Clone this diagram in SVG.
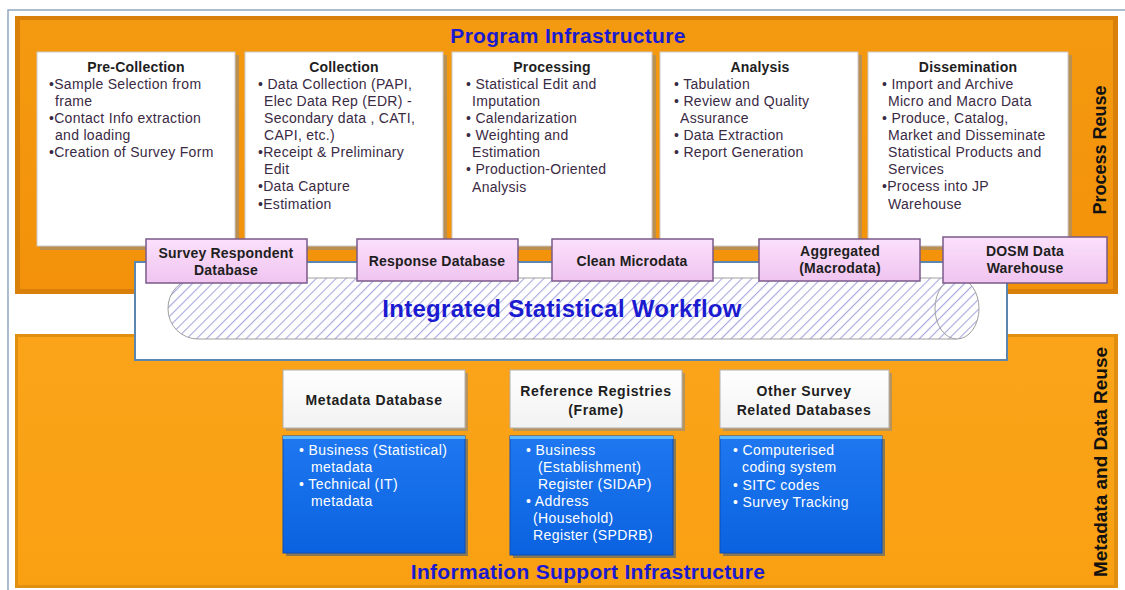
<svg xmlns="http://www.w3.org/2000/svg" width="1125" height="590" viewBox="0 0 1125 590">
<defs>
<linearGradient id="gTop" x1="0" y1="0" x2="0" y2="1"><stop offset="0" stop-color="#f49a10"/><stop offset="1" stop-color="#f3920a"/></linearGradient>
<linearGradient id="gLow" x1="0" y1="0" x2="0" y2="1"><stop offset="0" stop-color="#fba41a"/><stop offset="1" stop-color="#f9a012"/></linearGradient>
<linearGradient id="gPink" x1="0" y1="0" x2="0" y2="1"><stop offset="0" stop-color="#fbe0fb"/><stop offset="1" stop-color="#f0c4f0"/></linearGradient>
<linearGradient id="gBlue" x1="0" y1="0" x2="0" y2="1"><stop offset="0" stop-color="#1f78f0"/><stop offset="1" stop-color="#0a62e0"/></linearGradient>
<linearGradient id="gWhite" x1="0" y1="0" x2="0" y2="1"><stop offset="0" stop-color="#ffffff"/><stop offset="1" stop-color="#f2f2f2"/></linearGradient>
<pattern id="hatch" width="7" height="7" patternUnits="userSpaceOnUse" patternTransform="rotate(45)">
<rect width="7" height="7" fill="#ffffff"/>
<line x1="0" y1="0" x2="0" y2="7" stroke="#a8a8e0" stroke-width="2.2"/>
</pattern>
</defs>
<style>
.t{font-family:"Liberation Sans",Arial,sans-serif;font-size:14px;letter-spacing:0.3px;fill:#3a2a44}
.h{font-family:"Liberation Sans",Arial,sans-serif;font-size:14px;letter-spacing:0.2px;font-weight:bold;fill:#1e1e1e;text-anchor:middle}
.hb{letter-spacing:0.6px}
.w{font-family:"Liberation Sans",Arial,sans-serif;font-size:14px;letter-spacing:0.4px;fill:#ffffff}
.big{font-family:"Liberation Sans",Arial,sans-serif;font-weight:bold;fill:#1a1ad0;text-anchor:middle;letter-spacing:0.3px}
.vert{font-family:"Liberation Sans",Arial,sans-serif;font-weight:bold;fill:#111;text-anchor:middle}
.proc{fill:#ffffff;stroke:#c9c9c9;stroke-width:1}
.pshadow{fill:#8a8a8a;opacity:0.55}
.pink{fill:url(#gPink);stroke:#7a5a8a;stroke-width:1.5}
.blue{fill:url(#gBlue);stroke:#0a4fb8;stroke-width:1}
.hdr{fill:url(#gWhite);stroke:#b0b0b0;stroke-width:1}
</style>
<rect width="1125" height="590" fill="#ffffff"/>
<path d="M8 590 V10 H1125" fill="none" stroke="#90a8c0" stroke-width="1.5"/>

<g id="program-infrastructure">
<rect x="15" y="16" width="1103" height="278" fill="#d9800a"/>
<rect x="20" y="20" width="1093" height="269" fill="url(#gTop)"/>
<text class="big" x="568" y="43" font-size="21">Program Infrastructure</text>
</g>

<g id="information-support-infrastructure">
<rect x="15" y="334" width="1103" height="254" fill="#e08f10"/>
<rect x="18" y="337" width="1096" height="248" fill="url(#gLow)"/>
<text class="big" x="588" y="579" font-size="21">Information Support Infrastructure</text>
</g>

<g id="process-reuse"><text class="vert" font-size="18" transform="translate(1106,150) rotate(-90)">Process Reuse</text></g>
<g id="metadata-reuse"><text class="vert" font-size="19" transform="translate(1107,462) rotate(-90)">Metadata and Data Reuse</text></g>

<g id="pre-collection">
<rect class="pshadow" x="40" y="55" width="199" height="195"/>
<rect class="proc" x="37" y="52" width="198" height="194"/>
<text class="h" x="136" y="72">Pre-Collection</text>
<text class="t"><tspan x="49" y="89">•Sample Selection from</tspan><tspan x="55" y="106">frame</tspan><tspan x="49" y="123">•Contact Info extraction</tspan><tspan x="55" y="140">and loading</tspan><tspan x="49" y="157">•Creation of Survey  Form</tspan></text>
</g>

<g id="collection">
<rect class="pshadow" x="248" y="55" width="199" height="195"/>
<rect class="proc" x="245" y="52" width="198" height="194"/>
<text class="h" x="344" y="72">Collection</text>
<text class="t"><tspan x="258" y="89">• Data Collection (PAPI,</tspan><tspan x="264" y="106">Elec Data Rep (EDR) -</tspan><tspan x="264" y="123">Secondary data , CATI,</tspan><tspan x="264" y="140">CAPI, etc.)</tspan><tspan x="258" y="157">•Receipt &amp; Preliminary</tspan><tspan x="264" y="174">Edit</tspan><tspan x="258" y="191">•Data Capture</tspan><tspan x="258" y="209">•Estimation</tspan></text>
</g>

<g id="processing">
<rect class="pshadow" x="455" y="55" width="201" height="195"/>
<rect class="proc" x="452" y="52" width="200" height="194"/>
<text class="h" x="552" y="72">Processing</text>
<text class="t"><tspan x="466" y="89">• Statistical Edit and</tspan><tspan x="472" y="106">Imputation</tspan><tspan x="466" y="123">• Calendarization</tspan><tspan x="466" y="140">• Weighting  and</tspan><tspan x="472" y="157">Estimation</tspan><tspan x="466" y="174">• Production-Oriented</tspan><tspan x="472" y="192">Analysis</tspan></text>
</g>

<g id="analysis">
<rect class="pshadow" x="663" y="55" width="199" height="195"/>
<rect class="proc" x="660" y="52" width="198" height="194"/>
<text class="h" x="760" y="72">Analysis</text>
<text class="t"><tspan x="674" y="89">• Tabulation</tspan><tspan x="674" y="106">• Review and Quality</tspan><tspan x="680" y="123">Assurance</tspan><tspan x="674" y="140">• Data Extraction</tspan><tspan x="674" y="157">• Report Generation</tspan></text>
</g>

<g id="dissemination">
<rect class="pshadow" x="871" y="55" width="201" height="195"/>
<rect class="proc" x="868" y="52" width="200" height="194"/>
<text class="h" x="968" y="72">Dissemination</text>
<text class="t"><tspan x="882" y="89">• Import and Archive</tspan><tspan x="888" y="106">Micro and Macro Data</tspan><tspan x="882" y="123">• Produce, Catalog,</tspan><tspan x="888" y="140">Market and Disseminate</tspan><tspan x="888" y="157">Statistical Products and</tspan><tspan x="888" y="174">Services</tspan><tspan x="882" y="191">•Process into JP</tspan><tspan x="888" y="209">Warehouse</tspan></text>
</g>

<g id="integrated-statistical-workflow">
<rect x="135" y="262" width="872" height="98" fill="#ffffff" stroke="#5a86b0" stroke-width="2"/>
<path d="M198 278 H957 V339 H198 A30 30 0 0 1 168 309 A30 30 0 0 1 198 278 Z" fill="url(#hatch)" stroke="#a0a0a0" stroke-width="1"/>
<ellipse cx="957" cy="308.5" rx="22" ry="30.5" fill="url(#hatch)" stroke="#a0a0a0" stroke-width="1"/>
<text class="big" x="562" y="317" font-size="24">Integrated Statistical Workflow</text>
</g>

<g id="survey-respondent-database">
<rect class="pink" x="146" y="239" width="161" height="44"/>
<text class="h"><tspan x="226" y="258">Survey Respondent</tspan><tspan x="226" y="275">Database</tspan></text>
</g>
<g id="response-database">
<rect class="pink" x="357" y="239" width="161" height="42"/>
<text class="h" x="437" y="266">Response Database</text>
</g>
<g id="clean-microdata">
<rect class="pink" x="552" y="239" width="161" height="42"/>
<text class="h" x="632" y="266">Clean Microdata</text>
</g>
<g id="aggregated-macrodata">
<rect class="pink" x="759" y="239" width="161" height="42"/>
<text class="h"><tspan x="840" y="256">Aggregated</tspan><tspan x="840" y="273">(Macrodata)</tspan></text>
</g>
<g id="dosm-data-warehouse">
<rect class="pink" x="943" y="237" width="164" height="46"/>
<text class="h"><tspan x="1025" y="256">DOSM Data</tspan><tspan x="1025" y="273">Warehouse</tspan></text>
</g>

<g id="metadata-database">
<rect x="286" y="373" width="182" height="58" fill="#8a8a8a" opacity="0.6"/>
<rect class="hdr" x="283" y="370" width="182" height="58"/>
<text class="h hb" x="374" y="405">Metadata  Database</text>
<rect x="286" y="439" width="182" height="117" fill="#1a4f90" opacity="0.5"/>
<rect class="blue" x="283" y="436" width="182" height="117"/>
<rect x="283" y="436" width="182" height="3" fill="#5ab8ff"/>
<text class="w"><tspan x="299" y="455">•  Business (Statistical)</tspan><tspan x="311" y="472">metadata</tspan><tspan x="299" y="489">•  Technical (IT)</tspan><tspan x="311" y="506">metadata</tspan></text>
</g>

<g id="reference-registries">
<rect x="513" y="373" width="172" height="58" fill="#8a8a8a" opacity="0.6"/>
<rect class="hdr" x="510" y="370" width="172" height="58"/>
<text class="h hb"><tspan x="596" y="396">Reference Registries</tspan><tspan x="596" y="415">(Frame)</tspan></text>
<rect x="513" y="439" width="163" height="119" fill="#1a4f90" opacity="0.5"/>
<rect class="blue" x="510" y="436" width="163" height="119"/>
<rect x="510" y="436" width="163" height="3" fill="#5ab8ff"/>
<text class="w"><tspan x="526" y="455">•  Business</tspan><tspan x="538" y="472">(Establishment)</tspan><tspan x="538" y="489">Register (SIDAP)</tspan><tspan x="526" y="506">•  Address</tspan><tspan x="533" y="523">(Household)</tspan><tspan x="533" y="540">Register (SPDRB)</tspan></text>
</g>

<g id="other-survey-databases">
<rect x="723" y="373" width="169" height="58" fill="#8a8a8a" opacity="0.6"/>
<rect class="hdr" x="720" y="370" width="169" height="58"/>
<text class="h hb"><tspan x="804" y="396">Other Survey</tspan><tspan x="804" y="415">Related Databases</tspan></text>
<rect x="723" y="439" width="162" height="117" fill="#1a4f90" opacity="0.5"/>
<rect class="blue" x="720" y="436" width="162" height="117"/>
<rect x="720" y="436" width="162" height="3" fill="#5ab8ff"/>
<text class="w"><tspan x="733" y="455">• Computerised</tspan><tspan x="742" y="472">coding system</tspan><tspan x="733" y="490">• SITC codes</tspan><tspan x="733" y="507">• Survey  Tracking</tspan></text>
</g>

<g id="connectors"></g>
</svg>
